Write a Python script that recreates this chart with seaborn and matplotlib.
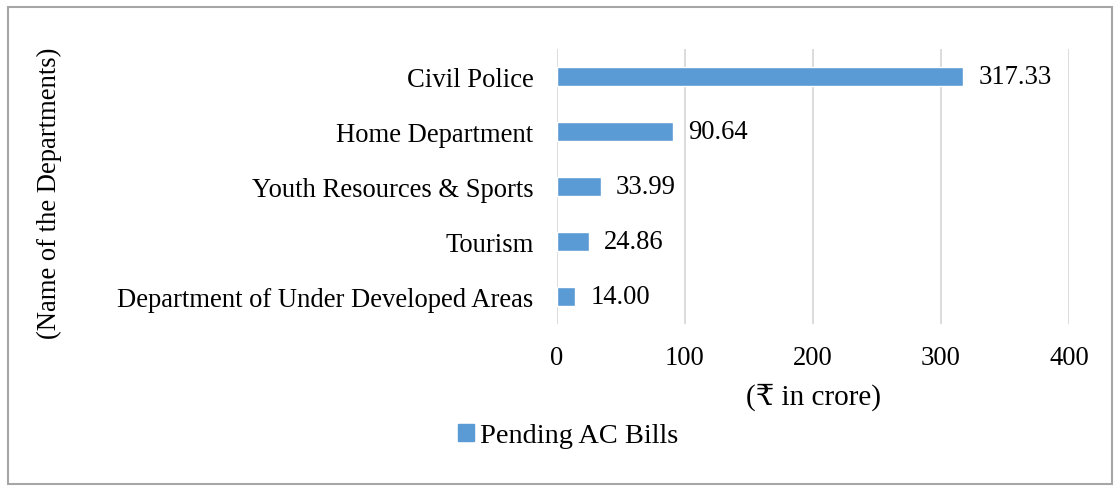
import matplotlib
matplotlib.use("Agg")
import matplotlib.pyplot as plt
import matplotlib.patches as mpatches
import seaborn as sns
import pandas as pd

departments = ["Civil Police", "Home Department", "Youth Resources & Sports",
               "Tourism", "Department of Under Developed Areas"]
pending = [317.33, 90.64, 33.99, 24.86, 14.00]
x_ticks = [0, 100, 200, 300, 400]
series_name = "Pending AC Bills"

bar_color = "#5B9BD5"
grid_color = "#D9D9D9"

def main():
    sns.set_theme(style="white")
    plt.rcParams["font.family"] = ["Liberation Serif", "DejaVu Serif", "DejaVu Sans"]
    plt.rcParams["text.color"] = "black"
    plt.rcParams["axes.labelcolor"] = "black"

    df = pd.DataFrame({"dept": departments, "value": pending})
    fs = 19.2

    fig = plt.figure(figsize=(11.17, 4.89), dpi=100)
    ax = fig.add_axes([557 / 1117, 1 - 325 / 489, 512 / 1117, 275 / 489])

    sns.barplot(data=df, y="dept", x="value", orient="h", color=bar_color,
                width=0.36, saturation=1, ax=ax)

    ax.set_xlim(0, 400)
    ax.set_xticks(x_ticks)
    ax.xaxis.grid(True, color=grid_color, linewidth=1.3)
    ax.set_axisbelow(True)
    for s in ax.spines.values():
        s.set_visible(False)
    ax.tick_params(axis="both", length=0, labelsize=fs, colors="black")
    ax.tick_params(axis="x", pad=15)
    ax.tick_params(axis="y", pad=17)

    for c in ax.containers:
        ax.bar_label(c, fmt="%.2f", padding=11, fontsize=fs)

    ax.set_xlabel("(₹ in crore)", fontsize=21, labelpad=9)
    ax.set_ylabel("(Name of the Departments)", fontsize=fs)
    ax.yaxis.set_label_coords(-0.967, 0.48)

    handles = [mpatches.Patch(color=bar_color, label=series_name)]
    fig.legend(handles=handles, loc="center", bbox_to_anchor=(568 / 1117, 1 - 437 / 489),
               frameon=False, fontsize=20.4, handlelength=0.57, handleheight=0.53,
               handletextpad=0.18)

    border = mpatches.Rectangle((8 / 1117, 4 / 489), 1104 / 1117, 477 / 489,
                                transform=fig.transFigure, fill=False,
                                edgecolor="#A6A6A6", linewidth=1.5)
    fig.patches.append(border)

    fig.savefig("out.png", dpi=100)
    plt.close(fig)

if __name__ == "__main__":
    main()
